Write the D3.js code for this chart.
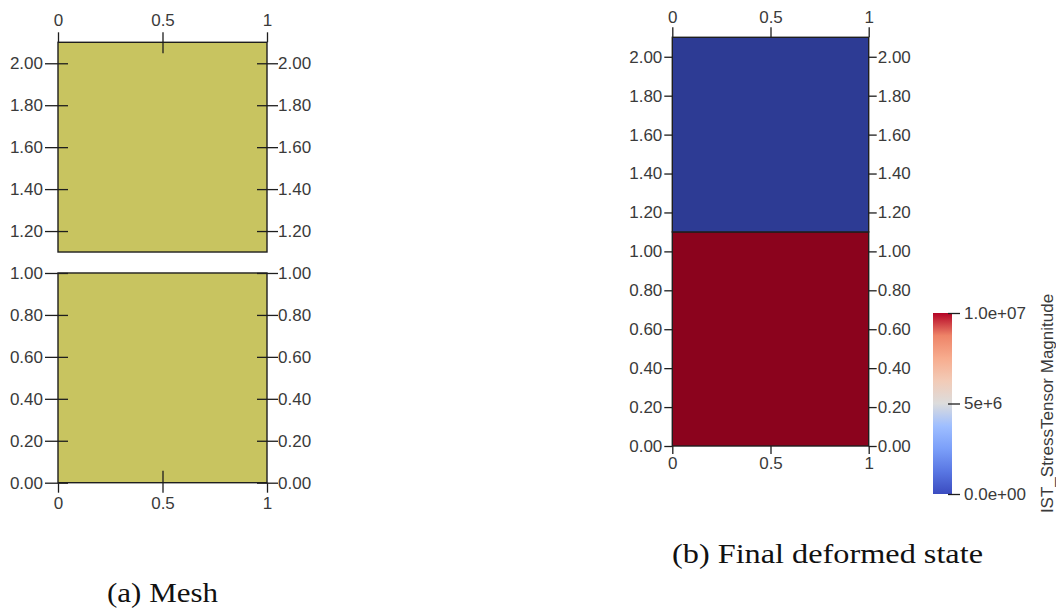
<!DOCTYPE html>
<html>
<head>
<meta charset="utf-8">
<script src="https://cdn.jsdelivr.net/npm/d3@7"></script>
<style>
  html, body { margin: 0; padding: 0; background: #fff; }
  svg { display: block; }
  .tick text { font-family: "Liberation Sans", Arial, sans-serif; font-size: 17px; fill: #3a3a3a; }
  .tick line { stroke: #1e1e1e; stroke-width: 1.3; }
  .domain { display: none; }
  .caption { font-family: "Liberation Serif", "Times New Roman", serif; font-size: 27px; fill: #111; }
</style>
</head>
<body>
<svg id="fig" width="1056" height="609"></svg>
<script>
// Axis ticks shared by both panels
const xTickValues = [0, 0.5, 1];
const xTickLabels = ["0", "0.5", "1"];
const yTickValues = [0, 0.2, 0.4, 0.6, 0.8, 1.0, 1.2, 1.4, 1.6, 1.8, 2.0];
const yTickLabels = ["0.00", "0.20", "0.40", "0.60", "0.80", "1.00", "1.20", "1.40", "1.60", "1.80", "2.00"];

// Two blocks of the mesh (initial configuration): bottom / top y extents
const meshBottom = [0, 1.1];
const meshTop = [1.0, 2.1];

// Final deformed state: the two blocks are in contact
const deformedBottom = [0, 1.1];
const deformedTop = [1.1, 2.1];
const stressMagnitude = [1.0e7, 0.0];

// Colour bar
const stressDomain = [0, 1.0e7];
const coolWarmStops = ["#3b4cc0", "#5977e3", "#7b9ff9", "#9ebeff", "#dcdcdc", "#f2cbb7", "#f7ac8e", "#ee8468", "#b40426"];
const barTickValues = [0, 5e6, 1.0e7];
const barTickLabels = ["0.0e+00", "5e+6", "1.0e+07"];
const barTitle = "IST_StressTensor Magnitude";

const captions = ["(a) Mesh", "(b) Final deformed state"];

const svg = d3.select("#fig");
const fmtLookup = (vals, labels) => v => labels[vals.findIndex(t => Math.abs(t - v) < 1e-9)];

const coolWarm = d3.scaleLinear()
  .domain(coolWarmStops.map((_, i) => stressDomain[0] + (stressDomain[1] - stressDomain[0]) * i / (coolWarmStops.length - 1)))
  .range(coolWarmStops)
  .interpolate(d3.interpolateRgb);

// Surface shading of the rendered blocks
function shade(c, k) {
  const col = d3.rgb(c);
  return d3.rgb(col.r * k, col.g * k, col.b * k).formatHex();
}

// ---------------- Panel (a): mesh ----------------
{
  const x = d3.scaleLinear().domain([0, 1]).range([58, 267]);
  const y = d3.scaleLinear().domain([0, 2.1]).range([482.7, 42.3]);
  const g = svg.append("g");

  g.selectAll("rect.block").data(meshBottom).join("rect")
    .attr("class", "block")
    .attr("x", x(0)).attr("width", x(1) - x(0))
    .attr("y", (d, i) => y(meshTop[i]))
    .attr("height", (d, i) => y(d) - y(meshTop[i]))
    .attr("fill", "#c8c460")
    .attr("stroke", "#1e1e1e").attr("stroke-width", 1.4);

  const fx = fmtLookup(xTickValues, xTickLabels);
  const fy = fmtLookup(yTickValues, yTickLabels);

  // left / right axes: ticks straddle the block edge
  const left = g.append("g").attr("transform", `translate(${x(0)},0)`)
    .call(d3.axisLeft(y).tickValues(yTickValues).tickFormat(fy).tickSize(13).tickPadding(2));
  left.selectAll(".tick line").attr("x1", 10);
  const right = g.append("g").attr("transform", `translate(${x(1)},0)`)
    .call(d3.axisRight(y).tickValues(yTickValues).tickFormat(fy).tickSize(11).tickPadding(0));
  right.selectAll(".tick line").attr("x1", -10);

  const top = g.append("g").attr("transform", `translate(0,${y(2.1)})`)
    .call(d3.axisTop(x).tickValues(xTickValues).tickFormat(fx).tickSize(10).tickPadding(6));
  top.selectAll(".tick line").attr("y1", d => d === 0.5 ? 11 : 0);
  const bottom = g.append("g").attr("transform", `translate(0,${y(0)})`)
    .call(d3.axisBottom(x).tickValues(xTickValues).tickFormat(fx).tickSize(10).tickPadding(4));
  bottom.selectAll(".tick line").attr("y1", d => d === 0.5 ? -12 : 0);

  g.append("text").attr("class", "caption")
    .attr("x", 107).attr("y", 602)
    .attr("textLength", 111).attr("lengthAdjust", "spacingAndGlyphs")
    .text(captions[0]);
}

// ---------------- Panel (b): final deformed state ----------------
{
  const x = d3.scaleLinear().domain([0, 1]).range([672.3, 868.7]);
  const y = d3.scaleLinear().domain([0, 2.1]).range([446, 37.3]);
  const g = svg.append("g");

  g.selectAll("rect.block").data(deformedBottom).join("rect")
    .attr("class", "block")
    .attr("x", x(0)).attr("width", x(1) - x(0))
    .attr("y", (d, i) => y(deformedTop[i]))
    .attr("height", (d, i) => y(d) - y(deformedTop[i]))
    .attr("fill", (d, i) => shade(coolWarm(stressMagnitude[i]), 0.77))
    .attr("stroke", "#1e1e1e").attr("stroke-width", 1.4);

  const fx = fmtLookup(xTickValues, xTickLabels);
  const fy = fmtLookup(yTickValues, yTickLabels);

  g.append("g").attr("transform", `translate(${x(0)},0)`)
    .call(d3.axisLeft(y).tickValues(yTickValues).tickFormat(fy).tickSize(8).tickPadding(2));
  g.append("g").attr("transform", `translate(${x(1)},0)`)
    .call(d3.axisRight(y).tickValues(yTickValues).tickFormat(fy).tickSize(8).tickPadding(1));
  g.append("g").attr("transform", `translate(0,${y(2.1)})`)
    .call(d3.axisTop(x).tickValues(xTickValues).tickFormat(fx).tickSize(10).tickPadding(4));
  g.append("g").attr("transform", `translate(0,${y(0)})`)
    .call(d3.axisBottom(x).tickValues(xTickValues).tickFormat(fx).tickSize(8).tickPadding(3));

  g.append("text").attr("class", "caption")
    .attr("x", 672).attr("y", 563)
    .attr("textLength", 311).attr("lengthAdjust", "spacingAndGlyphs")
    .text(captions[1]);

  // colour bar
  const barX = 933, barW = 19;
  const by = d3.scaleLinear().domain(stressDomain).range([494, 313]);
  const defs = svg.append("defs");
  const grad = defs.append("linearGradient").attr("id", "coolwarm")
    .attr("x1", 0).attr("y1", 1).attr("x2", 0).attr("y2", 0);
  grad.selectAll("stop").data(coolWarmStops).join("stop")
    .attr("offset", (d, i) => i / (coolWarmStops.length - 1))
    .attr("stop-color", d => d);
  g.append("rect")
    .attr("x", barX).attr("y", by(stressDomain[1]))
    .attr("width", barW).attr("height", by(stressDomain[0]) - by(stressDomain[1]))
    .attr("fill", "url(#coolwarm)");
  const bar = g.append("g").attr("transform", `translate(${barX + barW - 4},0)`)
    .call(d3.axisRight(by).tickValues(barTickValues)
      .tickFormat(fmtLookup(barTickValues, barTickLabels)).tickSize(12).tickPadding(4));
  bar.selectAll(".tick line").attr("stroke-width", 1.4);

  g.append("text")
    .attr("transform", `translate(1053,${(by(stressDomain[0]) + by(stressDomain[1])) / 2}) rotate(-90)`)
    .attr("text-anchor", "middle")
    .style("font-family", "'Liberation Sans', Arial, sans-serif")
    .style("font-size", "17px").style("fill", "#3a3a3a")
    .text(barTitle);
}
</script>
</body>
</html>
